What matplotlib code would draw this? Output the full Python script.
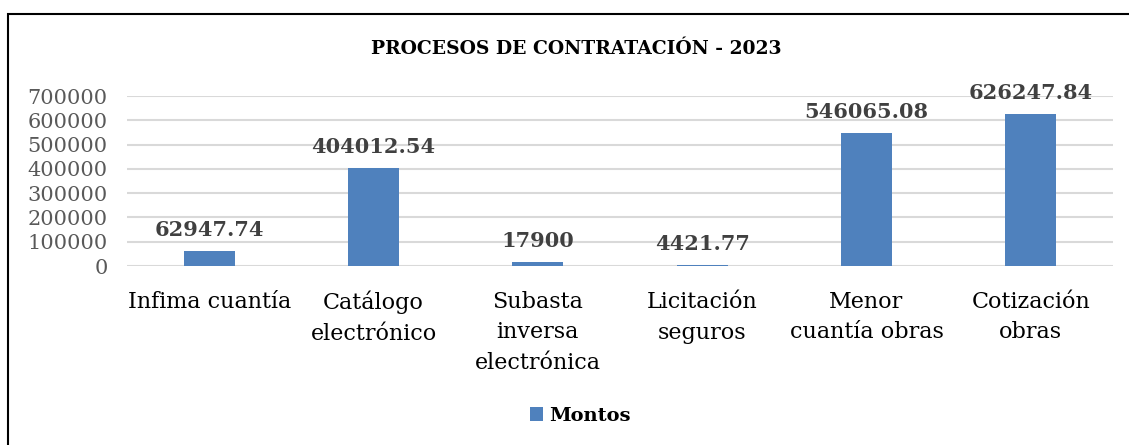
import matplotlib
matplotlib.use("Agg")
import matplotlib.pyplot as plt
from matplotlib.patches import Rectangle

categories = ["Infima cuantía", "Catálogo\nelectrónico", "Subasta\ninversa\nelectrónica",
              "Licitación\nseguros", "Menor\ncuantía obras", "Cotización\nobras"]
montos = [62947.74, 404012.54, 17900, 4421.77, 546065.08, 626247.84]
labels = ["62947.74", "404012.54", "17900", "4421.77", "546065.08", "626247.84"]
yticks = [0, 100000, 200000, 300000, 400000, 500000, 600000, 700000]

W, H = 1129, 445
fig = plt.figure(figsize=(W / 100, H / 100), dpi=100)
plt.rcParams['font.family'] = ['DejaVu Serif']

ax = fig.add_axes([127 / W, (H - 266) / H, (1113 - 127) / W, (266 - 96) / H])
x = list(range(len(categories)))
bars = ax.bar(x, montos, width=0.31, color="#4f81bd", zorder=3, label="Montos")
ax.set_xlim(-0.5, len(categories) - 0.5)
ax.set_ylim(0, 700000)
ax.set_yticks(yticks)
ax.set_yticklabels([str(v) for v in yticks], fontsize=15, color="#595959")
ax.yaxis.grid(True, color="#d9d9d9", linewidth=1.5, zorder=0)
ax.tick_params(axis="both", length=0)
ax.tick_params(axis="y", pad=14)
ax.set_xticks(x)
ax.set_xticklabels(categories, fontsize=16, color="black", linespacing=1.5)
ax.tick_params(axis="x", pad=18)
for s in ax.spines.values():
    s.set_visible(False)

for xi, v, lab in zip(x, montos, labels):
    ax.annotate(lab, (xi, v), xytext=(0, 8), textcoords="offset points",
                ha="center", va="bottom", fontsize=15, fontweight="bold", color="#404040")

fig.text(576 / W, 1 - 49 / H, "PROCESOS DE CONTRATACIÓN - 2023", ha="center", va="center",
         fontsize=13.5, fontweight="bold", color="black")

leg = fig.legend(handles=[bars], labels=["Montos"], loc="center", bbox_to_anchor=(580 / W, 1 - 416 / H),
                 frameon=False, prop={"weight": "bold", "size": 14}, handlelength=0.7, handleheight=0.7,
                 handletextpad=0.3)

fig.patches.append(Rectangle((8 / W, -0.1), 1.2, (H - 14) / H + 0.1, transform=fig.transFigure,
                             fill=False, edgecolor="black", linewidth=1.5))

fig.savefig("out.png", dpi=100, facecolor="white")
